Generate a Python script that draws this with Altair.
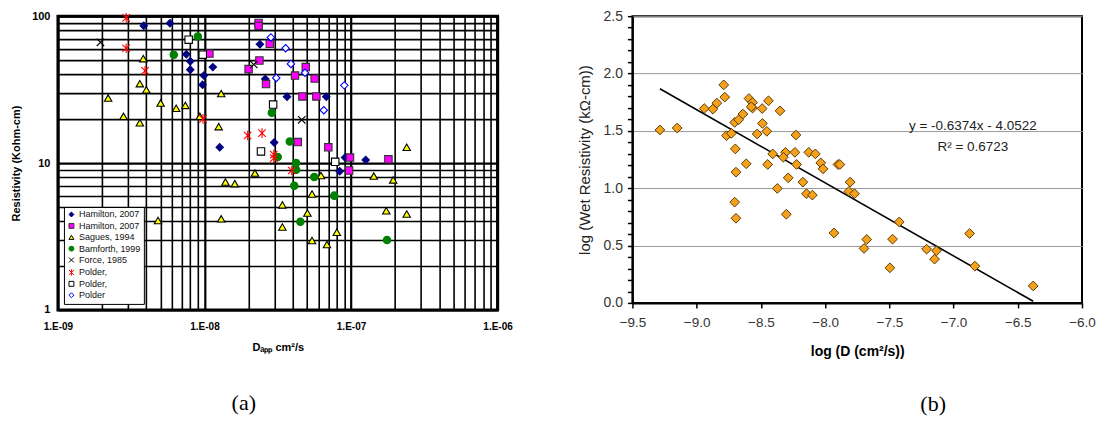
import altair as alt
import pandas as pd

# ---------------- Panel (a) data: D_app (cm^2/s) and resistivity (kOhm-cm) ----------------
series_names = ["Hamilton, 2007", "Hamilton, 2007 ", "Sagues, 1994", "Bamforth, 1999",
                "Force, 1985", "Polder,", "Polder, ", "Polder"]

hamilton_a_d = [3.85e-9, 5.81e-9, 7.52e-9, 8.0e-9, 8.0e-9, 1.14e-8, 9.9e-9, 9.7e-9, 1.27e-8,
                2.39e-8, 2.6e-8, 2.99e-8, 3.66e-8, 6.78e-8, 9.1e-8, 1.26e-7, 8.37e-8]
hamilton_a_r = [86, 89.4, 55, 49.4, 43.2, 45, 39.4, 34.1, 12.8,
                64.4, 37.4, 13.8, 28.3, 28.3, 10.9, 10.5, 8.8]

hamilton_b_d = [2.34e-8, 2.34e-8, 2.79e-8, 2.37e-8, 2.0e-8, 2.63e-8, 1.08e-8, 4.91e-8, 4.15e-8,
                5.65e-8, 4.66e-8, 5.8e-8, 4.33e-8, 7.0e-8, 9.84e-8, 1.8e-7, 9.7e-8]
hamilton_b_r = [89.9, 85.8, 64.8, 49.9, 43.6, 34.5, 55.6, 45, 39.4,
                37.6, 28.4, 28.4, 13.9, 12.8, 10.9, 10.6, 8.9]

sagues_d = [3.82e-9, 3.62e-9, 4.01e-9, 1.3e-8, 2.2e-9, 5.02e-9, 7.4e-9, 6.41e-9, 2.8e-9, 3.62e-9,
            9.3e-9, 1.25e-8, 2.4e-7, 6.24e-8, 1.43e-7, 1.94e-7, 5.42e-8, 3.4e-8, 5.04e-8, 1.74e-7,
            2.4e-7, 3.4e-8, 8.0e-8, 5.42e-8, 6.85e-8, 1.39e-8, 1.61e-8, 2.21e-8, 4.82e-9, 1.3e-8]
sagues_r = [51.4, 34.7, 31.5, 29.7, 27.7, 25.6, 24.7, 23.6, 20.8, 18.8,
            20.8, 17.7, 12.8, 8.23, 8.15, 7.67, 6.15, 5.19, 4.57, 4.73,
            4.5, 3.67, 3.38, 2.97, 2.79, 7.43, 7.24, 8.54, 4.06, 4.17]

bamforth_d = [9.0e-9, 6.17e-9, 2.88e-8, 3.82e-8, 3.16e-8, 4.22e-8, 4.22e-8, 5.61e-8, 4.1e-8,
              7.69e-8, 4.51e-8, 1.76e-7]
bamforth_r = [72.8, 54.7, 22, 14.0, 11.0, 10, 9.0, 8.03, 7.0, 6.0, 3.98, 2.99]

force_d = [1.95e-9, 2.17e-8, 4.61e-8]
force_r = [66.4, 46.9, 19.7]

polder_star_d = [2.92e-9, 2.92e-9, 3.93e-9, 9.77e-9, 1.97e-8, 2.47e-8, 2.97e-8, 2.97e-8, 3.94e-8]
polder_star_r = [97.4, 60.5, 42.5, 20, 15.4, 16.0, 11.4, 10.8, 8.9]

polder_sq_d = [7.8e-9, 9.73e-9, 2.94e-8, 2.43e-8, 7.8e-8]
polder_sq_r = [69.2, 54.7, 25, 12.0, 10.2]

polder_dia_d = [2.84e-8, 3.58e-8, 3.89e-8, 4.85e-8, 3.09e-8, 9.0e-8, 6.52e-8]
polder_dia_r = [71.7, 60.5, 47.3, 41.2, 38, 33.8, 22.9]

# ---------------- Panel (b) data: log D and log wet resistivity ----------------
log_d = [-9.286, -9.152, -8.941, -8.874, -8.843, -8.789, -8.781, -8.768, -8.730, -8.704,
         -8.673, -8.640, -8.699, -8.593, -8.565, -8.565, -8.575, -8.490, -8.441, -8.488,
         -8.454, -8.529, -8.351, -8.408, -8.308, -8.325, -8.227, -8.235, -8.127, -8.076,
         -8.034, -8.016, -7.900, -8.694, -8.614, -8.447, -8.222, -8.287, -8.372, -8.173,
         -8.145, -8.099, -8.704, -8.694, -8.302, -7.931, -7.885, -7.805, -7.815, -7.771,
         -7.676, -7.697, -7.475, -7.496, -7.423, -7.210, -7.133, -7.148, -6.875, -6.834,
         -6.380]
log_r = [1.508, 1.525, 1.695, 1.690, 1.742, 1.901, 1.794, 1.458, 1.478, 1.574,
         1.597, 1.647, 1.343, 1.782, 1.747, 1.699, 1.710, 1.695, 1.762, 1.565,
         1.496, 1.473, 1.675, 1.299, 1.313, 1.270, 1.464, 1.313, 1.313, 1.299,
         1.221, 1.169, 1.207, 1.140, 1.213, 1.207, 1.207, 1.091, 0.998, 1.053,
         0.952, 0.940, 0.879, 0.738, 0.773, 0.610, 1.207, 1.053, 0.972, 0.952,
         0.553, 0.475, 0.556, 0.306, 0.706, 0.469, 0.454, 0.382, 0.605, 0.321,
         0.148]

SLOPE = -0.6374
INTERCEPT = -4.0522
ann_text = ["y = -0.6374x - 4.0522", "R\u00b2 = 0.6723"]
ann_x = [-6.85, -6.85]
ann_y = [1.545, 1.363]

# ---------------- Build panel (a) ----------------
groups = [
    (series_names[0], hamilton_a_d, hamilton_a_r),
    (series_names[1], hamilton_b_d, hamilton_b_r),
    (series_names[2], sagues_d, sagues_r),
    (series_names[3], bamforth_d, bamforth_r),
    (series_names[4], force_d, force_r),
    (series_names[5], polder_star_d, polder_star_r),
    (series_names[6], polder_sq_d, polder_sq_r),
    (series_names[7], polder_dia_d, polder_dia_r),
]
rows = []
for name, ds, rs in groups:
    for d, r in zip(ds, rs):
        rows.append({"series": name, "D": d, "R": r})
dfa = pd.DataFrame(rows)

shapes = ["diamond", "square", "triangle-up", "circle",
          "M-1,-1L1,1M1,-1L-1,1", "M-1,-1L1,1M1,-1L-1,1M0,-1.3L0,1.3", "square", "diamond"]
fills = ["#000080", "#FF00FF", "#FFFF00", "#008000", "transparent", "transparent", "white", "white"]
strokes = ["#000080", "#333333", "#000000", "#008000", "#000000", "#FF0000", "#000000", "#0000FF"]

x_grid_vals = [m * 10.0 ** e for e in (-9, -8, -7) for m in range(1, 10)] + [1e-6]
y_grid_vals = [m * 10.0 ** e for e in (0, 1) for m in range(1, 10)] + [100.0]

decade_test = "abs(log(datum.value)/LN10 - round(log(datum.value)/LN10)) < 0.01"

leg = alt.Legend(title=None, orient="none", legendX=6, legendY=191,
                 fillColor="white", strokeColor="black", padding=3,
                 labelFont="Liberation Sans", labelFontSize=9, labelColor="#111",
                 symbolSize=24, symbolStrokeWidth=1, rowPadding=1.4, labelOffset=3,
                 symbolOffset=0)

pts_a = alt.Chart(dfa).mark_point(filled=True, size=55, strokeWidth=1.1, opacity=1).encode(
    x=alt.X("D:Q",
            scale=alt.Scale(type="log", domain=[1e-9, 1e-6], nice=False),
            axis=alt.Axis(values=x_grid_vals, grid=True, gridColor="black",
                          gridWidth={"condition": {"test": decade_test, "value": 2.2}, "value": 1.6},
                          ticks=False, domain=False,
                          labelExpr=decade_test + " ? '1.E-0' + (-round(log(datum.value)/LN10)) : ''",
                          labelOverlap=False, labelBound=False, labelFlush=False,
                          labelFont="Liberation Sans", labelFontWeight="bold", labelFontSize=10,
                          labelColor="black", labelPadding=12,
                          title="D\u2090\u209a\u209a cm\u00b2/s", titleFont="Liberation Sans",
                          titleFontWeight="bold", titleFontSize=11, titleColor="black",
                          titlePadding=10)),
    y=alt.Y("R:Q",
            scale=alt.Scale(type="log", domain=[1, 100], nice=False),
            axis=alt.Axis(values=y_grid_vals, grid=True, gridColor="black",
                          gridWidth={"condition": {"test": decade_test, "value": 2.2}, "value": 1.6},
                          ticks=False, domain=False,
                          labelExpr=decade_test + " ? format(datum.value, 'd') : ''",
                          labelOverlap=False, labelBound=False, labelFlush=False,
                          labelFont="Liberation Sans", labelFontWeight="bold", labelFontSize=11,
                          labelColor="black", labelPadding=8,
                          title="Resistivity (Kohm-cm)", titleFont="Liberation Sans",
                          titleFontWeight="bold", titleFontSize=11, titleColor="black",
                          titlePadding=10)),
    shape=alt.Shape("series:N", scale=alt.Scale(domain=series_names, range=shapes), legend=leg),
    fill=alt.Fill("series:N", scale=alt.Scale(domain=series_names, range=fills), legend=leg),
    stroke=alt.Stroke("series:N", scale=alt.Scale(domain=series_names, range=strokes), legend=leg),
)

chart_a = alt.layer(pts_a).properties(
    width=440, height=294,
    view=alt.ViewBackground(stroke="black", strokeWidth=3),
    title=alt.TitleParams("(a)", orient="bottom", font="Liberation Serif", fontSize=22,
                          fontWeight="normal", color="black", dx=-34, offset=40, anchor="middle"),
)

# ---------------- Build panel (b) ----------------
dfb = pd.DataFrame({"x": log_d, "y": log_r})
dfl = pd.DataFrame({"x": [min(log_d), max(log_d)]})
dft = pd.DataFrame({"x": ann_x, "y": ann_y, "t": ann_text})

y_vals_b = [round(i * 0.1, 1) for i in range(26)]
x_vals_b = [round(-9.5 + i * 0.5, 1) for i in range(8)]
half_test = "abs(datum.value*2 - round(datum.value*2)) < 0.001"

xb = alt.X("x:Q", scale=alt.Scale(domain=[-9.5, -6.0], nice=False),
           axis=alt.Axis(values=x_vals_b, format=".1f", grid=False,
                         tickSize=5, tickColor="black", tickWidth=1.5,
                         domainColor="black", domainWidth=2,
                         labelFont="Liberation Sans", labelFontSize=13.5, labelColor="#333",
                         labelPadding=8, labelFlush=False,
                         title="log (D (cm\u00b2/s))", titleFont="Liberation Sans",
                         titleFontSize=14, titleFontWeight="bold", titleColor="black",
                         titlePadding=15))
yb = alt.Y("y:Q", scale=alt.Scale(domain=[0, 2.5], nice=False),
           axis=alt.Axis(values=y_vals_b, grid=True, gridColor="#999999", gridWidth=1,
                         gridOpacity={"condition": {"test": half_test, "value": 1}, "value": 0},
                         labelExpr=half_test + " ? format(datum.value, '.1f') : ''",
                         labelOverlap=False, labelFlush=False, labelBound=False,
                         tickSize=5, tickColor="black", tickWidth=1.5,
                         domainColor="black", domainWidth=2,
                         labelFont="Liberation Sans", labelFontSize=14, labelColor="#333",
                         labelPadding=5,
                         title="log (Wet Resistivity (k\u03a9-cm))", titleFont="Liberation Sans",
                         titleFontSize=15, titleFontWeight="normal", titleColor="#222",
                         titlePadding=11))

line_b = alt.Chart(dfl).transform_calculate(
    y=f"{SLOPE}*datum.x + ({INTERCEPT})"
).mark_line(color="black", strokeWidth=1.6).encode(x=xb, y=yb)

pts_b = alt.Chart(dfb).mark_point(shape="diamond", filled=True, size=95, fill="#F5A11C",
                                  stroke="#5A3B00", strokeWidth=1, opacity=1).encode(x=xb, y=yb)

txt_b = alt.Chart(dft).mark_text(font="Liberation Sans", fontSize=13.5, color="#222",
                                 align="center", baseline="middle").encode(
    x=xb, y=yb, text="t:N")

chart_b = alt.layer(line_b, pts_b, txt_b).properties(
    width=450, height=287,
    view=alt.ViewBackground(stroke="black", strokeWidth=2),
    title=alt.TitleParams("(b)", orient="bottom", font="Liberation Serif", fontSize=22,
                          fontWeight="normal", color="black", dx=76, offset=36, anchor="middle"),
)

chart = alt.hconcat(chart_a, chart_b, spacing=61).properties(
    padding={"left": 1, "top": 0, "right": 0, "bottom": 0},
    background="white",
)

chart.save("out.html", embed_options={"renderer": "svg", "actions": False})
